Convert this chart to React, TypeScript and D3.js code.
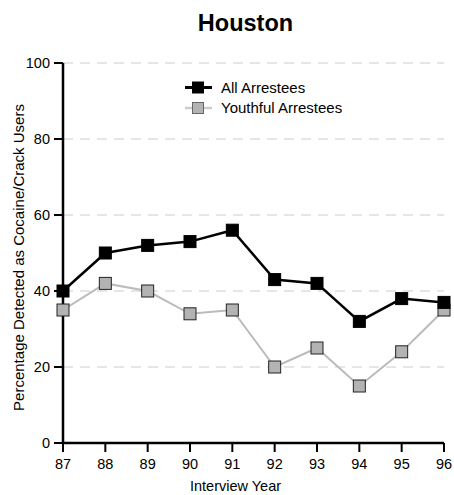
import * as d3 from 'd3'

const years = ['87', '88', '89', '90', '91', '92', '93', '94', '95', '96']
const allArrestees = [40, 50, 52, 53, 56, 43, 42, 32, 38, 37]
const youthfulArrestees = [35, 42, 40, 34, 35, 20, 25, 15, 24, 35]
const yTicks = [0, 20, 40, 60, 80, 100]

const W = 454
const H = 495
const m = { left: 63, right: 10, top: 63, bottom: 52 }

export default function App() {
  const x = d3.scalePoint<string>().domain(years).range([m.left, W - m.right])
  const y = d3.scaleLinear().domain([0, 100]).range([H - m.bottom, m.top])
  const pathGen = d3
    .line<number>()
    .x((_, i) => x(years[i])!)
    .y((d) => y(d))

  const font = 'Liberation Sans, Arial, sans-serif'
  const sz = 12

  const series = [
    { name: 'All Arrestees', values: allArrestees, line: '#000', lw: 2.5, fill: '#000', stroke: '#000', legLine: '#000', legStroke: '#000' },
    { name: 'Youthful Arrestees', values: youthfulArrestees, line: '#bbb', lw: 2, fill: '#b3b3b3', stroke: '#222', legLine: '#ccc', legStroke: '#666' },
  ]

  return (
    <svg width={W} height={H} style={{ position: 'absolute', left: 0, top: 0, fontFamily: font }}>
      <rect width={W} height={H} fill="#fff" />
      <text x={245.5} y={31} textAnchor="middle" fontSize={23.5} fontWeight="bold">
        Houston
      </text>
      {yTicks.map((t) => (
        <g key={t}>
          {t > 0 && (
            <line x1={m.left} x2={W - m.right} y1={y(t)} y2={y(t)} stroke="#ccc" strokeWidth={1} strokeDasharray="10,7" />
          )}
          <line x1={m.left - 9} x2={m.left} y1={y(t)} y2={y(t)} stroke="#000" strokeWidth={2} />
          <text x={m.left - 13} y={y(t) + 5} textAnchor="end" fontSize={14.5}>
            {t}
          </text>
        </g>
      ))}
      {years.map((yr) => (
        <g key={yr}>
          <line x1={x(yr)} x2={x(yr)} y1={y(0)} y2={y(0) + 9} stroke="#000" strokeWidth={2} />
          <text x={x(yr)} y={y(0) + 26} textAnchor="middle" fontSize={14.5}>
            {yr}
          </text>
        </g>
      ))}
      <line x1={m.left} x2={m.left} y1={y(100)} y2={y(0)} stroke="#000" strokeWidth={2.5} />
      <line x1={m.left} x2={W - m.right} y1={y(0)} y2={y(0)} stroke="#000" strokeWidth={2.5} />
      <text x={235.5} y={491} textAnchor="middle" fontSize={14.5}>
        Interview Year
      </text>
      <text transform={`translate(24,257.5) rotate(-90)`} textAnchor="middle" fontSize={15}>
        Percentage Detected as Cocaine/Crack Users
      </text>
      {[...series].reverse().map((s) => (
        <g key={s.name}>
          <path d={pathGen(s.values) ?? ''} fill="none" stroke={s.line} strokeWidth={s.lw} />
          {s.values.map((v, i) => (
            <rect
              key={i}
              x={x(years[i])! - sz / 2}
              y={y(v) - sz / 2}
              width={sz}
              height={sz}
              fill={s.fill}
              stroke={s.stroke}
              strokeWidth={1}
            />
          ))}
        </g>
      ))}
      {series.map((s, i) => {
        const ly = 87.5 + i * 20.5
        return (
          <g key={s.name}>
            <line x1={185} x2={212} y1={ly} y2={ly} stroke={s.legLine} strokeWidth={s.lw + 0.5} />
            <rect x={192.5} y={ly - 5.5} width={11} height={11} fill={s.fill} stroke={s.legStroke} strokeWidth={1} />
            <text x={221} y={ly + 5.3} fontSize={15}>
              {s.name}
            </text>
          </g>
        )
      })}
    </svg>
  )
}
